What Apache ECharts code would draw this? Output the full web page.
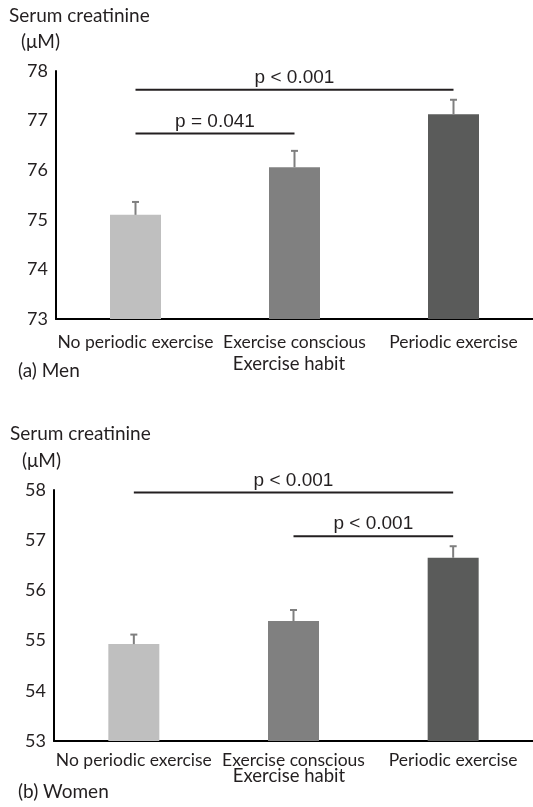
<!DOCTYPE html>
<html><head><meta charset="utf-8">
<script src="https://cdn.jsdelivr.net/npm/echarts@6/dist/echarts.min.js"></script>
<style>html,body{margin:0;padding:0;background:#fff}#c{width:533px;height:807px}</style>
</head><body><div id="c"></div>
<script>
const categories = ['No periodic exercise', 'Exercise conscious', 'Periodic exercise'];
const menMeans = [75.10, 76.06, 77.13];
const menErr = [0.26, 0.33, 0.29];
const womenMeans = [54.93, 55.39, 56.65];
const womenErr = [0.19, 0.22, 0.23];
// [fromCategory, toCategory, yValue]
const menSig = [[0, 2, 77.62], [0, 1, 76.74]];
const menSigLabels = ['p < 0.001', 'p = 0.041'];
const womenSig = [[0, 2, 57.95], [1, 2, 57.08]];
const womenSigLabels = ['p < 0.001', 'p < 0.001'];
const menTicks = {min: 73, max: 78, interval: 1};
const womenTicks = {min: 53, max: 58, interval: 1};
const barColors = ['#bfbfbf', '#808080', '#5a5b5a'];

const FONT = 'Lato';
const chart = echarts.init(document.getElementById('c'));

function errItem(params, api) {
  const x = api.value(0), v = api.value(1), e = api.value(2);
  const p0 = api.coord([x, v]);
  const p1 = api.coord([x, v + e]);
  const st = {stroke: '#7f7f7f', lineWidth: 2};
  return {type: 'group', children: [
    {type: 'line', shape: {x1: p0[0], y1: p0[1], x2: p1[0], y2: p1[1]}, style: st},
    {type: 'line', shape: {x1: p1[0] - 3.5, y1: p1[1], x2: p1[0] + 3.5, y2: p1[1]}, style: st}
  ]};
}
function sigRenderer(labels) {
  return function (params, api) {
    const a = api.coord([api.value(0), api.value(2)]);
    const b = api.coord([api.value(1), api.value(2)]);
    return {type: 'group', children: [
      {type: 'line', shape: {x1: a[0], y1: a[1], x2: b[0], y2: b[1]}, style: {stroke: '#231f20', lineWidth: 2}},
      {type: 'text', x: (a[0] + b[0]) / 2, y: a[1] - 12, style: {text: labels[params.dataIndex], fill: '#231f20', font: '19px "Liberation Sans"', align: 'center', verticalAlign: 'middle'}}
    ]};
  };
}
function xAxisCfg(gi, margin) {
  return {type: 'category', gridIndex: gi, data: categories,
    axisLine: {lineStyle: {color: '#000', width: 2}}, axisTick: {show: false},
    axisLabel: {color: '#231f20', fontFamily: FONT, fontSize: 17.5, margin: margin, interval: 0}};
}
function yAxisCfg(gi, t) {
  return {type: 'value', gridIndex: gi, min: t.min, max: t.max, interval: t.interval,
    splitLine: {show: false}, axisTick: {show: false},
    axisLine: {show: true, lineStyle: {color: '#000', width: 2}},
    axisLabel: {color: '#231f20', fontFamily: FONT, fontSize: 18, margin: 8}};
}
function txt(text, left, top, size) {
  return {type: 'text', left: left, top: top, style: {text: text, fill: '#231f20', font: size + 'px ' + FONT}};
}

chart.setOption({
  animation: false,
  grid: [
    {left: 56, top: 71, width: 483, height: 248},
    {left: 54, top: 490, width: 483, height: 251}
  ],
  xAxis: [xAxisCfg(0, 14), xAxisCfg(1, 10)],
  yAxis: [yAxisCfg(0, menTicks), yAxisCfg(1, womenTicks)],
  graphic: [
    txt('Serum creatinine', 9, 6, 19),
    txt('(\u03bcM)', 21, 32, 19),
    txt('(a) Men', 18, 361, 19),
    {type: 'text', x: 289, y: 364, style: {text: 'Exercise habit', fill: '#231f20', font: '18.5px ' + FONT, align: 'center', verticalAlign: 'middle'}},
    txt('Serum creatinine', 10, 424, 19),
    txt('(\u03bcM)', 22, 451, 19),
    txt('(b) Women', 18, 782, 19),
    {type: 'text', x: 289, y: 776, style: {text: 'Exercise habit', fill: '#231f20', font: '18.5px ' + FONT, align: 'center', verticalAlign: 'middle'}}
  ],
  series: [
    {type: 'bar', xAxisIndex: 0, yAxisIndex: 0, barWidth: 51,
      data: menMeans.map((v, i) => ({value: v, itemStyle: {color: barColors[i]}}))},
    {type: 'custom', xAxisIndex: 0, yAxisIndex: 0, renderItem: errItem, encode: {x: 0, y: 1},
      data: menMeans.map((v, i) => [i, v, menErr[i]]), z: 3},
    {type: 'custom', xAxisIndex: 0, yAxisIndex: 0, renderItem: sigRenderer(menSigLabels), encode: {x: 0, y: 2},
      data: menSig, z: 4, clip: false},
    {type: 'bar', xAxisIndex: 1, yAxisIndex: 1, barWidth: 51,
      data: womenMeans.map((v, i) => ({value: v, itemStyle: {color: barColors[i]}}))},
    {type: 'custom', xAxisIndex: 1, yAxisIndex: 1, renderItem: errItem, encode: {x: 0, y: 1},
      data: womenMeans.map((v, i) => [i, v, womenErr[i]]), z: 3},
    {type: 'custom', xAxisIndex: 1, yAxisIndex: 1, renderItem: sigRenderer(womenSigLabels), encode: {x: 0, y: 2},
      data: womenSig, z: 4, clip: false}
  ]
});
</script></body></html>
